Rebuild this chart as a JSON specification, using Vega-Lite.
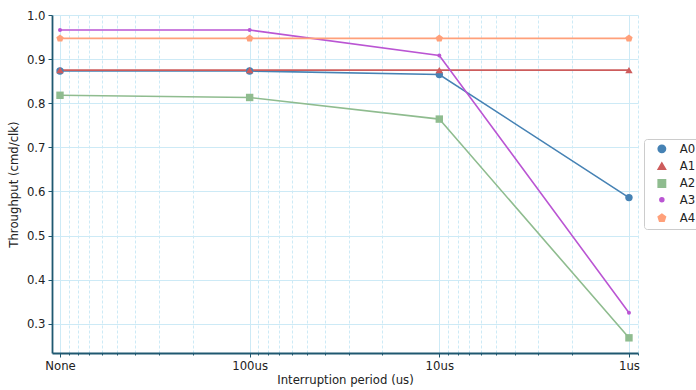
{
  "$schema": "https://vega.github.io/schema/vega-lite/v6.json",
  "width": 586,
  "height": 338,
  "autosize": "none",
  "padding": {"left": 52, "top": 15, "right": 58, "bottom": 37},
  "background": "white",
  "config": {
    "font": "DejaVu Sans",
    "view": {"stroke": null}
  },
  "data": {
    "values": [
      {"series": "A0", "period": 1000, "throughput": 0.873},
      {"series": "A0", "period": 100, "throughput": 0.873},
      {"series": "A0", "period": 10, "throughput": 0.865},
      {"series": "A0", "period": 1, "throughput": 0.586},
      {"series": "A1", "period": 1000, "throughput": 0.875},
      {"series": "A1", "period": 100, "throughput": 0.875},
      {"series": "A1", "period": 10, "throughput": 0.875},
      {"series": "A1", "period": 1, "throughput": 0.875},
      {"series": "A2", "period": 1000, "throughput": 0.818},
      {"series": "A2", "period": 100, "throughput": 0.813},
      {"series": "A2", "period": 10, "throughput": 0.764},
      {"series": "A2", "period": 1, "throughput": 0.268},
      {"series": "A3", "period": 1000, "throughput": 0.966},
      {"series": "A3", "period": 100, "throughput": 0.966},
      {"series": "A3", "period": 10, "throughput": 0.908},
      {"series": "A3", "period": 1, "throughput": 0.325},
      {"series": "A4", "period": 1000, "throughput": 0.947},
      {"series": "A4", "period": 100, "throughput": 0.947},
      {"series": "A4", "period": 10, "throughput": 0.947},
      {"series": "A4", "period": 1, "throughput": 0.947}
    ]
  },
  "encoding": {
    "x": {
      "field": "period",
      "type": "quantitative",
      "scale": {"type": "log", "domain": [0.896, 1102], "reverse": true, "nice": false},
      "axis": {
        "title": "Interruption period (us)",
        "titleFontSize": 11.7,
        "titleFontWeight": "normal",
        "titleColor": "#222222",
        "titlePadding": 3,
        "values": [0.9, 1, 2, 3, 4, 5, 6, 7, 8, 9, 10, 20, 30, 40, 50, 60, 70, 80, 90, 100, 200, 300, 400, 500, 600, 700, 800, 900, 1000],
        "labelExpr": "datum.value == 1000 ? 'None' : datum.value == 100 ? '100us' : datum.value == 10 ? '10us' : datum.value == 1 ? '1us' : ''",
        "labelOverlap": false,
        "labelFontSize": 11.7,
        "labelColor": "#222222",
        "labelPadding": 3,
        "labelFlush": false,
        "domainColor": "#1f5870",
        "domainWidth": 1.8,
        "tickColor": "#1f5870",
        "tickSize": {"condition": {"test": "datum.value == 1000 || datum.value == 100 || datum.value == 10 || datum.value == 1", "value": 4}, "value": 2},
        "tickWidth": 1,
        "grid": true,
        "gridColor": "#cdeaf6",
        "gridWidth": 1,
        "gridDash": {"condition": {"test": "datum.value == 1000 || datum.value == 100 || datum.value == 10 || datum.value == 1", "value": []}, "value": [3, 2]}
      }
    },
    "y": {
      "field": "throughput",
      "type": "quantitative",
      "scale": {"domain": [0.2336, 1.0], "nice": false, "zero": false},
      "axis": {
        "title": "Throughput (cmd/clk)",
        "titleFontSize": 11.7,
        "titleFontWeight": "normal",
        "titleColor": "#222222",
        "titlePadding": 7,
        "values": [0.3, 0.4, 0.5, 0.6, 0.7, 0.8, 0.9, 1.0],
        "format": ".1f",
        "labelFontSize": 11.7,
        "labelColor": "#222222",
        "labelPadding": 3,
        "labelFlush": false,
        "domainColor": "#1f5870",
        "domainWidth": 1.8,
        "tickColor": "#1f5870",
        "tickSize": 4,
        "grid": true,
        "gridColor": "#cdeaf6",
        "gridWidth": 1
      }
    }
  },
  "layer": [
    {
      "mark": {"type": "line", "strokeWidth": 1.6},
      "encoding": {
        "color": {
          "field": "series",
          "type": "nominal",
          "scale": {"domain": ["A0", "A1", "A2", "A3", "A4"], "range": ["#4682b4", "#cd5c5c", "#8fbc8f", "#ba55d3", "#ffa07a"]}
        }
      }
    },
    {
      "mark": {"type": "point", "filled": true, "opacity": 1},
      "encoding": {
        "color": {
          "field": "series",
          "type": "nominal",
          "scale": {"domain": ["A0", "A1", "A2", "A3", "A4"], "range": ["#4682b4", "#cd5c5c", "#8fbc8f", "#ba55d3", "#ffa07a"]},
          "legend": {
            "title": null,
            "orient": "none",
            "legendX": 592,
            "legendY": 124,
            "padding": 4,
            "rowPadding": 3.3,
            "labelFontSize": 11.7,
            "labelColor": "#222222",
            "labelOffset": 12,
            "symbolOffset": 8,
            "strokeColor": "#cccccc",
            "fillColor": "white",
            "cornerRadius": 3,
            "symbolOpacity": 1,
            "symbolType": "circle"
          }
        },
        "shape": {
          "field": "series",
          "type": "nominal",
          "scale": {"domain": ["A0", "A1", "A2", "A3", "A4"], "range": ["circle", "triangle-up", "square", "circle", "M0,-1L0.951,-0.309L0.588,0.809L-0.588,0.809L-0.951,-0.309Z"]}
        },
        "size": {
          "field": "series",
          "type": "nominal",
          "scale": {"type": "ordinal", "domain": ["A0", "A1", "A2", "A3", "A4"], "range": [55, 55, 55, 16, 60]}
        }
      }
    }
  ]
}
